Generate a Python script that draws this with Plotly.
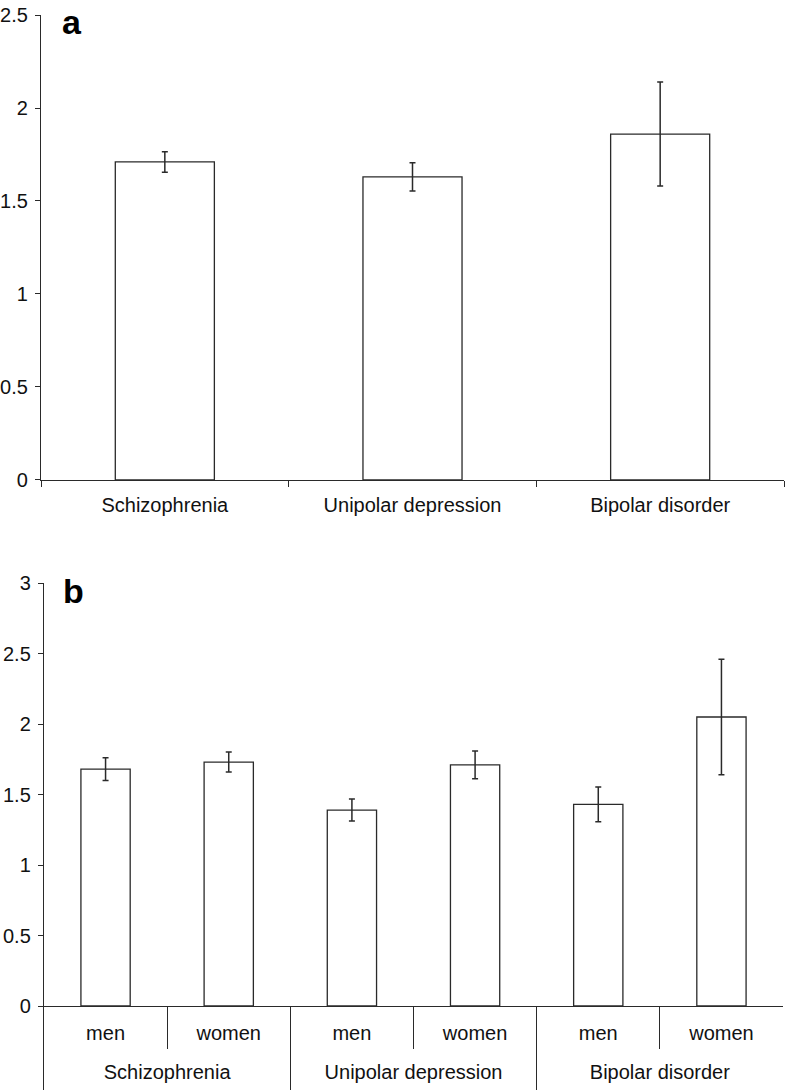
import plotly.graph_objects as go

# Panel a
disorders = ["Schizophrenia", "Unipolar depression", "Bipolar disorder"]
a_values = [1.71, 1.63, 1.86]
a_errors = [0.055, 0.076, 0.28]

# Panel b
b_groups = ["Schizophrenia", "Schizophrenia", "Unipolar depression", "Unipolar depression",
            "Bipolar disorder", "Bipolar disorder"]
b_sex = ["men", "women", "men", "women", "men", "women"]
b_values = [1.68, 1.73, 1.39, 1.71, 1.43, 2.05]
b_errors = [0.08, 0.071, 0.078, 0.098, 0.124, 0.41]

a_yticks = [0, 0.5, 1, 1.5, 2, 2.5]
b_yticks = [0, 0.5, 1, 1.5, 2, 2.5, 3]

INK = "#2a2a2a"
FONT = "Liberation Sans"

# positions of the sub-bars and their groups (category indices)
b_pos = list(range(len(b_sex)))
group_names = list(dict.fromkeys(b_groups))
group_centers = [sum(i for i, g in enumerate(b_groups) if g == name) / b_groups.count(name)
                 for name in group_names]
group_starts = [min(i for i, g in enumerate(b_groups) if g == name) - 0.5 for name in group_names]
sub_bounds = [p - 0.5 for p in b_pos]
b_range = [-0.5, len(b_sex) - 0.5]

fig = go.Figure()
fig.add_trace(go.Bar(
    x=disorders, y=a_values, xaxis="x", yaxis="y",
    marker=dict(color="white", line=dict(color=INK, width=1.3)),
    error_y=dict(type="data", array=a_errors, color=INK, thickness=1.5, width=3),
    showlegend=False,
))
fig.add_trace(go.Bar(
    x=b_pos, y=b_values, xaxis="x2", yaxis="y2",
    marker=dict(color="white", line=dict(color=INK, width=1.3)),
    error_y=dict(type="data", array=b_errors, color=INK, thickness=1.5, width=3),
    showlegend=False,
))
# carrier trace (no visible marks) so the group-label axis is drawn
fig.add_trace(go.Scatter(
    x=group_centers, y=[None] * len(group_centers), xaxis="x3", yaxis="y2",
    mode="markers", marker=dict(opacity=0), showlegend=False, hoverinfo="skip",
))

axis_common = dict(showgrid=False, zeroline=False, showline=True, linecolor=INK,
                   linewidth=1.3, tickcolor=INK, tickwidth=1.2, automargin=False,
                   tickfont=dict(family=FONT, size=20, color="#111"))
axis_noline = {**axis_common, "showline": False}

fig.update_layout(
    width=786, height=1090,
    margin=dict(l=41, r=2, t=15, b=84),
    paper_bgcolor="white", plot_bgcolor="white",
    bargap=0.6,
    font=dict(family=FONT, color="#111"),
    xaxis=dict(**axis_common, domain=[0, 1], anchor="y", type="category",
               ticks="outside", ticklen=6, tickson="boundaries", ticklabelstandoff=7),
    yaxis=dict(**axis_common, domain=[0.5308, 1], anchor="x", range=[0, 2.5],
               tickvals=a_yticks, ticks="outside", ticklen=5, ticklabelstandoff=3),
    xaxis2=dict(**axis_common, domain=[0.004, 0.9987], anchor="y2", range=b_range,
                tickmode="array", tickvals=b_pos, ticktext=b_sex, ticks="",
                ticklabelstandoff=9,
                minor=dict(tickmode="array", tickvals=sub_bounds, ticks="outside",
                           ticklen=42, tickcolor=INK, tickwidth=1.2)),
    xaxis3=dict(**axis_noline, domain=[0.004, 0.9987], anchor="y2", overlaying="x2",
                side="bottom", range=b_range,
                tickmode="array", tickvals=group_centers, ticktext=group_names, ticks="",
                ticklabelstandoff=52,
                minor=dict(tickmode="array", tickvals=group_starts, ticks="outside",
                           ticklen=84, tickcolor=INK, tickwidth=1.2)),
    yaxis2=dict(**axis_common, domain=[0, 0.4268], anchor="x2", range=[0, 3],
                tickvals=b_yticks, ticks="outside", ticklen=5, ticklabelstandoff=3),
    annotations=[
        dict(text="<b>a</b>", xref="x domain", yref="y domain", x=0.025, y=1.03,
             xanchor="left", yanchor="top", showarrow=False,
             font=dict(family=FONT, size=34, color="#000")),
        dict(text="<b>b</b>", xref="x2 domain", yref="y2 domain", x=0.023, y=1.03,
             xanchor="left", yanchor="top", showarrow=False,
             font=dict(family=FONT, size=34, color="#000")),
    ],
)

fig.write_html("out.html", config={"displayModeBar": False},
               post_script="document.body.style.margin='0';")
